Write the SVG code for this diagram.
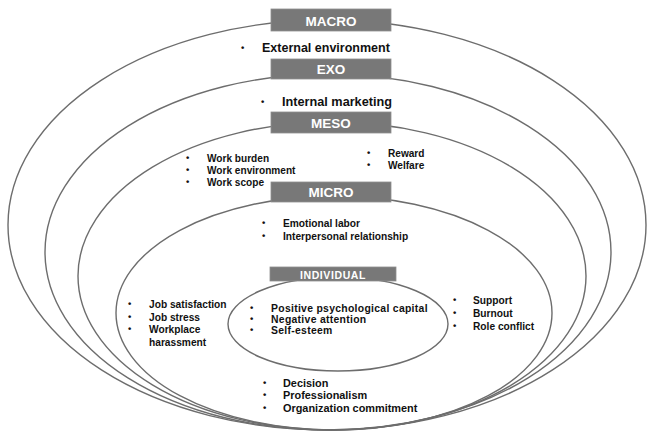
<svg xmlns="http://www.w3.org/2000/svg" width="650" height="436" viewBox="0 0 650 436">
<style>
.ring{fill:none;stroke:#6d6d6d;stroke-width:1.4}
.box{fill:#787878;stroke:#8e8e8e;stroke-width:0.8}
.lbl{font-family:"Liberation Sans",Arial,sans-serif;font-weight:bold;fill:#ffffff;text-anchor:middle}
.t{font-family:"Liberation Sans",Arial,sans-serif;font-weight:bold;fill:#111111}
.b{font-family:"Liberation Sans",Arial,sans-serif;font-weight:bold;fill:#111111;font-size:9.5px}
</style>
<rect width="650" height="436" fill="#ffffff"/>
<g id="macro">
<ellipse class="ring" cx="327" cy="225" rx="319" ry="205"/>
<rect class="box" x="271" y="9" width="120" height="22"/>
<text class="lbl" x="331" y="25.5" font-size="13.5">MACRO</text>
<text class="b" x="241" y="51">•</text>
<text class="t" x="262" y="52" font-size="12.5">External environment</text>
</g>
<g id="exo">
<ellipse class="ring" cx="328" cy="252" rx="283" ry="178"/>
<rect class="box" x="271" y="59" width="120" height="20"/>
<text class="lbl" x="331" y="74" font-size="13.5">EXO</text>
<text class="b" x="261" y="105">•</text>
<text class="t" x="282" y="106" font-size="12.7">Internal marketing</text>
</g>
<g id="meso">
<ellipse class="ring" cx="332" cy="276" rx="254" ry="154"/>
<rect class="box" x="271" y="112" width="120" height="21"/>
<text class="lbl" x="331" y="127.5" font-size="13.5">MESO</text>
<g font-size="10.1">
<text class="b" x="186" y="161">•</text>
<text class="t" x="207" y="162">Work burden</text>
<text class="b" x="186" y="173">•</text>
<text class="t" x="207" y="174">Work environment</text>
<text class="b" x="186" y="185">•</text>
<text class="t" x="207" y="186">Work scope</text>
<text class="b" x="367" y="156">•</text>
<text class="t" x="388" y="157">Reward</text>
<text class="b" x="367" y="168">•</text>
<text class="t" x="388" y="169">Welfare</text>
</g>
</g>
<g id="micro">
<ellipse class="ring" cx="334" cy="313" rx="218" ry="117"/>
<rect class="box" x="271" y="182" width="120" height="20"/>
<text class="lbl" x="331" y="197" font-size="13.5">MICRO</text>
<g font-size="10.2">
<text class="b" x="262" y="226">•</text>
<text class="t" x="283" y="227">Emotional labor</text>
<text class="b" x="262" y="239">•</text>
<text class="t" x="283" y="240">Interpersonal relationship</text>
<text class="b" x="128" y="307">•</text>
<text class="t" x="149" y="308">Job satisfaction</text>
<text class="b" x="128" y="320">•</text>
<text class="t" x="149" y="321">Job stress</text>
<text class="b" x="128" y="332">•</text>
<text class="t" x="149" y="333">Workplace</text>
<text class="t" x="149" y="346">harassment</text>
<text class="b" x="453" y="303">•</text>
<text class="t" x="473" y="304">Support</text>
<text class="b" x="453" y="316">•</text>
<text class="t" x="473" y="317">Burnout</text>
<text class="b" x="453" y="329">•</text>
<text class="t" x="473" y="330">Role conflict</text>
</g>
<g font-size="10.9">
<text class="b" x="263" y="386">•</text>
<text class="t" x="283" y="387">Decision</text>
<text class="b" x="263" y="398">•</text>
<text class="t" x="283" y="399">Professionalism</text>
<text class="b" x="263" y="411">•</text>
<text class="t" x="283" y="412">Organization commitment</text>
</g>
</g>
<g id="individual">
<ellipse class="ring" cx="338" cy="324" rx="110" ry="47"/>
<rect class="box" x="270" y="267" width="126" height="14"/>
<text class="lbl" x="333" y="278.5" font-size="10.5" letter-spacing="0.6">INDIVIDUAL</text>
<g font-size="10.4">
<text class="b" x="250" y="311">•</text>
<text class="t" x="271" y="312" letter-spacing="0.3">Positive psychological capital</text>
<text class="b" x="250" y="322">•</text>
<text class="t" x="271" y="323" letter-spacing="0.3">Negative attention</text>
<text class="b" x="250" y="333">•</text>
<text class="t" x="271" y="334" letter-spacing="0.3">Self-esteem</text>
</g>
</g>
</svg>
